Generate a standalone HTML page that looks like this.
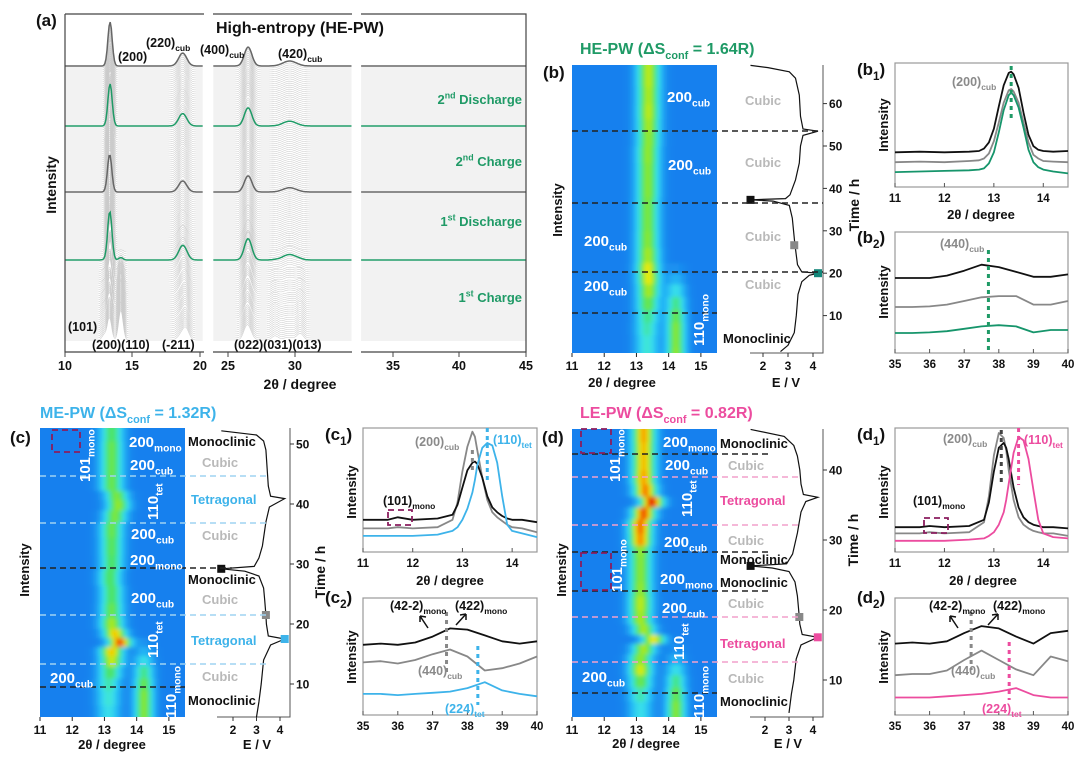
<!DOCTYPE html>
<html><head><meta charset="utf-8"><style>
html,body{margin:0;padding:0;background:#fff;}
svg{display:block;font-family:"Liberation Sans",Arial,sans-serif;font-weight:bold;}
</style></head><body>
<svg id="fig" xmlns="http://www.w3.org/2000/svg" width="1080" height="759" viewBox="0 0 1080 759">
<defs>
<filter id="blur" x="-5%" y="-5%" width="110%" height="110%"><feGaussianBlur stdDeviation="2.2"/></filter>
<clipPath id="clipB"><rect x="572" y="65" width="145" height="288"/></clipPath>
<clipPath id="clipC"><rect x="40" y="428" width="145" height="289"/></clipPath>
<clipPath id="clipD"><rect x="572" y="429" width="145" height="288"/></clipPath>
</defs>
</svg>
<script>
// ---------- DATA ----------
const heTimes=[1,4,7,10,13,16,19,21,24,28,32,36,40,44,48,52,55,58,62,66,69];
const heCenters=[13.3,13.3,13.3,13.32,13.33,13.35,13.35,13.33,13.33,13.32,13.32,13.32,13.33,13.33,13.33,13.35,13.35,13.35,13.35,13.35,13.35];
const heAmps=[0.35,0.35,0.4,0.45,0.55,0.65,0.75,0.75,0.65,0.6,0.58,0.58,0.6,0.6,0.62,0.62,0.65,0.68,0.66,0.68,0.68];
const heMono=[0.62,0.6,0.6,0.55,0.45,0.3,0.15,0.05,0,0,0,0,0,0,0,0,0,0,0,0,0];
const meTimes=[5,8,10,12,14,15.5,17,18.5,20,22,25,28,30,33,36,38,40,41.5,43,46,49,52];
const meCenters=[13.1,13.1,13.1,13.15,13.2,13.2,13.45,13.3,13.2,13.2,13.2,13.15,13.2,13.2,13.2,13.3,13.4,13.35,13.2,13.2,13.2,13.2];
const meAmps=[0.3,0.35,0.4,0.5,0.7,0.8,0.95,0.8,0.65,0.55,0.5,0.5,0.5,0.52,0.55,0.58,0.62,0.58,0.55,0.55,0.55,0.5];
const meMono=[0.6,0.6,0.55,0.45,0.3,0.15,0.05,0,0,0,0,0,0,0,0,0,0,0,0,0,0,0];
const leTimes=[6,8,10,11.5,13,14.5,16,17,19,21,23,25,27,28.5,30,32,34,35.5,37,39,41,43,45];
const leCenters=[13.1,13.1,13.1,13.1,13.1,13.2,13.5,13.2,13.1,13.1,13.1,13.1,13.1,13.1,13.1,13.1,13.2,13.45,13.25,13.2,13.2,13.2,13.2];
const leAmps=[0.3,0.4,0.55,0.72,0.62,0.65,0.75,0.65,0.65,0.68,0.62,0.6,0.6,0.62,0.88,0.92,0.95,1.0,0.9,0.85,0.82,0.82,0.85];
const leMono=[0.6,0.55,0.45,0.3,0.15,0.05,0,0,0,0,0,0,0,0,0,0,0,0,0,0,0,0,0];
const eTimesB=[1.5,3,6,10,15,18,19.5,20,20.3,22,27,33,36,37,37.3,37.6,38.5,42,46,50,52.5,53.5,54,57,62,66,67.5,68.5,69];
const eVoltsB=[2.7,3.0,3.25,3.33,3.4,3.55,3.85,4.2,3.55,3.38,3.27,3.17,3.05,2.4,1.5,2.9,3.08,3.3,3.45,3.5,3.6,4.2,3.6,3.5,3.45,3.3,3.05,2.2,1.5];
const eTimesC=[4.5,7,10,14,16.5,17.5,18,20,21.5,24,26,28,28.8,29.2,29.6,31,33,37,39.5,40.9,41.3,43,46,49,50.5,51.5,52.2];
const eVoltsC=[3.0,3.1,3.2,3.3,3.6,4.2,3.5,3.42,3.4,3.35,3.3,3.1,2.5,1.5,2.9,3.1,3.25,3.4,3.55,4.2,3.6,3.5,3.45,3.4,3.3,3.0,1.5];
const eTimesD=[5.3,8,10,13,15,16.1,16.5,18,19,22,24,25.5,26,26.3,26.6,28,31,34,35.5,36.1,36.5,38,40,42,43.5,44.8,45.8];
const eVoltsD=[3.0,3.1,3.2,3.3,3.5,4.2,3.55,3.45,3.43,3.35,3.25,3.0,2.3,1.4,2.9,3.15,3.35,3.5,3.7,4.2,3.6,3.5,3.45,3.35,3.2,2.8,1.4];
const lowAngleX=[11,11.5,11.7,12,12.5,12.8,12.9,13,13.1,13.2,13.25,13.3,13.4,13.5,13.6,13.7,13.8,13.9,14,14.2,14.5];
const highAngleX=[35,35.5,36,36.5,37,37.5,38,38.5,39,39.5,40];
const b1X=[11,11.5,12,12.5,12.7,12.8,12.9,13.0,13.1,13.2,13.3,13.35,13.4,13.5,13.6,13.7,13.8,13.9,14.0,14.2,14.5];
const b1Black=[28,28.5,28,28.5,29,31,36,47,65,82,92,93,91,80,60,42,33,30,29,28.5,29];
const b1Gray=[20,20.5,20,21,21.5,23,27,37,52,68,78,79,77,68,52,36,26,23,21,20.5,20];
const b1Teal=[12,12.5,13,13.5,14,15,19,28,44,62,74,76,74,64,48,30,20,16,14,12.5,11];
const b2Black=[62,62,62,64,68,73,71,67,63,63,65];
const b2Gray=[38,38,38.5,40,43,46,47,47,40,40,43];
const b2Teal=[16.5,16.5,17,18,20,22,23,22,17,19,19];
const c1Black=[26,26,28,26,27,30,38,52,66,72,73,71,60,45,36,32,29,27,26,26,24];
const c1Gray=[19,19,20,19,20,26,40,65,85,97,93,82,60,42,32,28,25,22,20,19,16];
const c1Blue=[13,13,13,13,14,17,20,26,35,48,58,70,84,88,86,72,45,22,17,15,12];
const c2Black=[60,61,60,62,67,74,73,68,63,61,63];
const c2Gray=[45,46,44,47,52,56,50,38,40,44,50];
const c2Blue=[18,18,17,18,19,20,23,28,21,18,16];
const d1Black=[20,20,21,20,21,26,40,65,84,88,84,75,52,36,28,24,22,21,20,20,19];
const d1Gray=[15,15,16,15,16,24,45,78,96,92,82,66,42,28,22,19,17,16,15,15,13];
const d1Pink=[9,9,9,9,10,11,13,16,22,32,42,55,80,93,90,75,50,26,15,12,11];
const d2Black=[61,62,61,63,70,76,74,67,61,70,72];
const d2Gray=[34,35,35,38,47,55,47,39,34,50,46];
const d2Pink=[15,15,15,16,17,18,20,23,17,15,15];
const lowTicks=[11,12,13,14];
const highTicks=[35,36,37,38,39,40];
const heatTicks=[11,12,13,14,15];
const eTicks=[2,3,4];

// ---------- HELPERS ----------
const NS="http://www.w3.org/2000/svg";
const svg=document.getElementById('fig');
const GREEN="#1f9a66", BLUE="#3db3ea", PINK="#ec4c9f", GRAY="#8a8a8a", LGRAY="#b9b9b9", PURPLE="#8a1d5e";
function mk(tag,attrs,parent){const e=document.createElementNS(NS,tag);for(const k in attrs)e.setAttribute(k,attrs[k]);(parent||svg).appendChild(e);return e;}
function txt(x,y,parts,o){
  o=o||{};const size=o.size||13;
  const t=mk('text',{x:x,y:y,'font-size':size,fill:o.color||'#111','text-anchor':o.anchor||'start'},o.parent);
  if(o.rot)t.setAttribute('transform','rotate('+o.rot+' '+x+' '+y+')');
  if(typeof parts==='string')parts=[[parts,0]];
  let shift=0;
  parts.forEach(p=>{const s=mk('tspan',{},t);let target=0;
    if(p[1]===1){s.setAttribute('font-size',size*0.68);target=size*0.3;}
    else if(p[1]===2){s.setAttribute('font-size',size*0.68);target=-size*0.42;}
    if(target!==shift){s.setAttribute('dy',target-shift);shift=target;}
    s.textContent=p[0];});
  return t;
}
function g(x,c,s){return Math.exp(-(x-c)*(x-c)/(2*s*s));}
function nearest(arr,t){let k=0,b=1e9;arr.forEach((v,i)=>{if(Math.abs(v-t)<b){b=Math.abs(v-t);k=i;}});return k;}
function cmap(v){
  const st=[[0,[22,128,238]],[0.18,[38,190,246]],[0.32,[60,228,232]],[0.48,[70,228,110]],[0.62,[150,232,40]],[0.74,[235,236,10]],[0.86,[250,150,0]],[1,[230,30,0]]];
  v=Math.max(0,Math.min(1,v));
  for(let i=1;i<st.length;i++){if(v<=st[i][0]){const a=st[i-1],b=st[i],f=(v-a[0])/(b[0]-a[0]);
    return 'rgb('+a[1].map((c,j)=>Math.round(c+(b[1][j]-c)*f)).join(',')+')';}}
  return 'rgb(230,30,0)';
}

function drawHeat(c){
  const grp=mk('g',{});
  
  
  mk('rect',{x:c.x0,y:c.y0,width:c.x1-c.x0,height:c.y1-c.y0,fill:'rgb(22,128,238)'},grp);
  const clip=mk('g',{'clip-path':'url(#'+c.clip+')'},grp);
  const cells=mk('g',{filter:'url(#blur)'},clip);
  const X=d=>c.x0+(d-11)/(15.5-11)*(c.x1-c.x0);
  const Y=t=>c.y0+(c.tmax-t)/(c.tmax-c.tmin)*(c.y1-c.y0);
  const n=c.times.length;
  for(let k=0;k<n;k++){
    const tTop=k===n-1?c.tmax+2:(c.times[k]+c.times[k+1])/2;
    const tBot=k===0?c.tmin-2:(c.times[k]+c.times[k-1])/2;
    const yT=Y(tTop),yB=Y(tBot);
    for(let d=10.9;d<15.6;d+=0.05){
      const v=c.amps[k]*g(d,c.cents[k],0.24)+c.monos[k]*g(d,14.2,0.2);
      const r=mk('rect',{x:X(d).toFixed(2),y:yT.toFixed(2),width:((c.x1-c.x0)*0.05/4.5+0.6).toFixed(2),height:(yB-yT+0.5).toFixed(2),fill:cmap(v)},cells);
      
      
    }
  }
  heatTicks.forEach(tv=>{
    const l=mk('line',{x1:X(tv),x2:X(tv),y1:c.y1,y2:c.y1+4,stroke:'#222','stroke-width':1},grp);
    
    const tl=txt(X(tv),c.y1+17,String(tv),{size:12,anchor:'middle',parent:grp});
    
  });
  return {X,Y};
}
function dash(x1,x2,y,color,name){
  const l=mk('line',{x1:x1,x2:x2,y1:y,y2:y,stroke:color,'stroke-width':1.5,'stroke-dasharray':'6,4'});
  
  
}
function drawE(c){
  const grp=mk('g',{});
  
  
  const XE=v=>c.e2+(v-2)*c.es;
  const YT=t=>c.t0y-t*c.ts;
  const ax=mk('path',{d:'M'+c.left+' '+c.y1+'H'+c.axisX+'V'+c.y0,fill:'none',stroke:'#555','stroke-width':1},grp);
  
  eTicks.forEach(v=>{
    const l=mk('line',{x1:XE(v),x2:XE(v),y1:c.y1,y2:c.y1+4,stroke:'#333'},grp);
    
    const tl=txt(XE(v),c.y1+17,String(v),{size:12,anchor:'middle',parent:grp});
    
  });
  c.tticks.forEach(t=>{
    const l=mk('line',{x1:c.axisX,x2:c.axisX+4,y1:YT(t),y2:YT(t),stroke:'#333'},grp);
    
    const tl=txt(c.axisX+6,YT(t)+4.5,String(t),{size:12,parent:grp});
    
  });
  let d='';c.times.forEach((t,i)=>{d+=(i?'L':'M')+XE(c.volts[i]).toFixed(1)+' '+YT(t).toFixed(1);});
  const p=mk('path',{d:d,fill:'none',stroke:'#111','stroke-width':1.2},grp);
  
  c.marks.forEach(m=>{
    const r=mk('rect',{x:XE(m[1])-4,y:YT(m[0])-4,width:8,height:8,fill:m[2]},grp);
    
  });
  return {XE,YT};
}
function drawSpec(c){
  const grp=mk('g',{});
  
  
  const X=d=>c.x0+(d-c.xmin)/(c.xmax-c.xmin)*(c.x1-c.x0);
  const Y=v=>c.y1-v/100*(c.y1-c.y0);
  const fr=mk('rect',{x:c.x0,y:c.y0,width:c.x1-c.x0,height:c.y1-c.y0,fill:'none',stroke:'#999','stroke-width':1.2},grp);
  
  c.ticks.forEach(tv=>{
    const l=mk('line',{x1:X(tv),x2:X(tv),y1:c.y1,y2:c.y1-4,stroke:'#555'},grp);
    
    const tl=txt(X(tv),c.y1+15,String(tv),{size:11.5,anchor:'middle',parent:grp});
    
  });
  c.series.forEach(s=>{
    let d='';s.xs.forEach((x,i)=>{d+=(i?'L':'M')+X(x).toFixed(1)+' '+Y(s.ys[i]).toFixed(1);});
    const p=mk('path',{d:d,fill:'none',stroke:s.color,'stroke-width':1.8,'stroke-linejoin':'round'},grp);
    
  });
  return {X,Y};
}
function vdot(x,y1,y2,color,name){
  const l=mk('line',{x1:x,x2:x,y1:y1,y2:y2,stroke:color,'stroke-width':3,'stroke-dasharray':'4,4'});
  
  
}
function pbox(x,y,w,h,name){
  const r=mk('rect',{x:x,y:y,width:w,height:h,fill:'none',stroke:PURPLE,'stroke-width':1.8,'stroke-dasharray':'6,4'});
  
  
}

// ---------- PANEL A ----------
(function(){
  const grp=mk('g',{});
  
  
  const segs=[{d0:10,d1:20.3,px:65,ref:10,s:13.45},{d0:23.9,d1:34.25,px:228,ref:25,s:13.4},{d0:32.6,d1:45,px:393,ref:35,s:13.3}];
  const N=138;
  const hi={137:'#666',107:GREEN,74:'#666',40:GREEN};
  const order=[];for(let i=0;i<N;i++)if(!hi[i])order.push(i);Object.keys(hi).forEach(k=>order.push(+k));
  order.forEach(i=>{
    const t=i/(N-1)*69;const k=nearest(heTimes,t);
    const A=heAmps[k]/0.68, M=heMono[k]/0.62, c0=heCenters[k];
    const base=340-i*2;
    segs.forEach(sg=>{
      let d='';
      for(let x=sg.d0;x<=sg.d1+0.001;x+=0.08){
        const v=A*(44*g(x,c0,0.16)+13*g(x,18.75,0.3)+19*g(x,26.5,0.28)+5*g(x,29.6,0.5))
               +M*(30*g(x,14.15,0.16)+5*g(x,12.9,0.15)+8*g(x,19.0,0.22)+6*g(x,26.4,0.22)+4*g(x,28.5,0.22)+6*g(x,30.4,0.22));
        d+=(d?'L':'M')+(sg.px+(x-sg.ref)*sg.s).toFixed(1)+' '+(base-v).toFixed(1);
      }
      const p=mk('path',{d:d,fill:'none',stroke:hi[i]||'#cbcbcb','stroke-width':hi[i]?1.5:0.55},grp);
      
    });
  });
  const ax=mk('path',{d:'M65 14H204M213 14H352M361 14H526V352H361M352 352H213M204 352H65V14',fill:'none',stroke:'#444','stroke-width':1.2},grp);
  
  [[10,65],[15,132],[20,200],[25,228],[30,295],[35,393],[40,459],[45,526]].forEach(a=>{
    const l=mk('line',{x1:a[1],x2:a[1],y1:352,y2:357,stroke:'#444'},grp);
    
    const tl=txt(a[1],370,String(a[0]),{size:12.5,anchor:'middle',parent:grp});
    
  });
})();
let e;
e=txt(36,26,'(a)',{size:17});
e=txt(300,33,'High-entropy  (HE-PW)',{size:16,anchor:'middle'});
e=txt(118,61,'(200)',{size:12.5});
e=txt(146,47,[['(220)',0],['cub',1]],{size:12.5});
e=txt(200,54,[['(400)',0],['cub',1]],{size:12.5});
e=txt(278,58,[['(420)',0],['cub',1]],{size:12.5});
e=txt(68,331,'(101)',{size:12.5});
e=txt(92,349,'(200)(110)',{size:12.5});
e=txt(162,349,'(-211)',{size:12.5});
e=txt(234,349,'(022)(031)(013)',{size:12.5});
e=txt(522,104,[['2',0],['nd',2],[' Discharge',0]],{size:13,color:GREEN,anchor:'end'});
e=txt(522,166,[['2',0],['nd',2],[' Charge',0]],{size:13,color:GREEN,anchor:'end'});
e=txt(522,226,[['1',0],['st',2],[' Discharge',0]],{size:13,color:GREEN,anchor:'end'});
e=txt(522,302,[['1',0],['st',2],[' Charge',0]],{size:13,color:GREEN,anchor:'end'});
e=txt(56,185,'Intensity',{size:14,anchor:'middle',rot:-90});
e=txt(300,389,'2θ / degree',{size:14,anchor:'middle'});

// ---------- PANEL B ----------
drawHeat({name:'heatmap-he-pw',x0:572,x1:717,y0:65,y1:353,tmin:(358-353)/4.24,tmax:(358-65)/4.24,times:heTimes,cents:heCenters,amps:heAmps,monos:heMono,clip:'clipB'});
drawE({name:'voltage-panel-b',left:750,axisX:823,y0:65,y1:353,e2:763,es:25,t0y:358,ts:4.24,tticks:[10,20,30,40,50,60],times:eTimesB,volts:eVoltsB,marks:[[20,4.2,'#13877a'],[26.6,3.25,'#888'],[37.3,1.5,'#111']]});
dash(572,823,131,'#222','phase-boundary');dash(572,823,203,'#222','phase-boundary');dash(572,823,272,'#222','phase-boundary');dash(572,717,313,'#222','phase-boundary');
e=txt(580,54,[['HE-PW (ΔS',0],['conf',1],[' = 1.64R)',0]],{size:16,color:GREEN});
e=txt(543,78,'(b)',{size:17});
[[667,102],[668,170],[584,246],[584,291]].forEach(p=>{e=txt(p[0],p[1],[['200',0],['cub',1]],{size:15,color:'#fff'});});
e=txt(704,346,[['110',0],['mono',1]],{size:15,color:'#fff',rot:-90});
[[745,105],[745,167],[745,241],[745,289]].forEach(p=>{e=txt(p[0],p[1],'Cubic',{size:13,color:LGRAY});});
e=txt(723,343,'Monoclinic',{size:13});
e=txt(562,210,'Intensity',{size:13,anchor:'middle',rot:-90});
e=txt(622,387,'2θ / degree',{size:13,anchor:'middle'});
e=txt(786,387,'E / V',{size:13,anchor:'middle'});
e=txt(859,205,'Time / h',{size:14,anchor:'middle',rot:-90});

drawSpec({name:'panel-b1',x0:895,x1:1068,y0:63,y1:187,xmin:11,xmax:14.5,ticks:lowTicks,series:[{xs:b1X,ys:b1Black,color:'#111',name:'series-black'},{xs:b1X,ys:b1Gray,color:'#888',name:'series-gray'},{xs:b1X,ys:b1Teal,color:'#16956b',name:'series-green'}]});
vdot(895+(13.35-11)/3.5*173,66,120,GREEN,'peak-marker');
e=txt(952,86,[['(200)',0],['cub',1]],{size:12.5,color:GRAY});
e=txt(857,75,[['(b',0],['1',1],[')',0]],{size:17});
e=txt(888,125,'Intensity',{size:13,anchor:'middle',rot:-90});
e=txt(981,219,'2θ / degree',{size:13,anchor:'middle'});
drawSpec({name:'panel-b2',x0:895,x1:1068,y0:232,y1:353,xmin:35,xmax:40,ticks:highTicks,series:[{xs:highAngleX,ys:b2Black,color:'#111',name:'series-black'},{xs:highAngleX,ys:b2Gray,color:'#888',name:'series-gray'},{xs:highAngleX,ys:b2Teal,color:'#16956b',name:'series-green'}]});
vdot(895+(37.7-35)/5*173,250,350,GREEN,'peak-marker');
e=txt(940,248,[['(440)',0],['cub',1]],{size:12.5,color:GRAY});
e=txt(857,243,[['(b',0],['2',1],[')',0]],{size:17});
e=txt(888,292,'Intensity',{size:13,anchor:'middle',rot:-90});

// ---------- PANEL C ----------
drawHeat({name:'heatmap-me-pw',x0:40,x1:185,y0:428,y1:717,tmin:(744-717)/6,tmax:(744-428)/6,times:meTimes,cents:meCenters,amps:meAmps,monos:meMono,clip:'clipC'});
drawE({name:'voltage-panel-c',left:217,axisX:290,y0:428,y1:717,e2:233,es:23.5,t0y:744,ts:6,tticks:[10,20,30,40,50],times:eTimesC,volts:eVoltsC,marks:[[17.5,4.2,BLUE],[21.5,3.4,'#888'],[29.2,1.5,'#111']]});
dash(40,232,568,'#222','phase-boundary');dash(40,185,687,'#222','phase-boundary');
[476,523,615,664].forEach(y=>dash(40,270,y,'#9fd3f2','phase-boundary'));
pbox(52,430,28,22,'mono-region-box');
e=txt(40,418,[['ME-PW (ΔS',0],['conf',1],[' = 1.32R)',0]],{size:16,color:BLUE});
e=txt(10,443,'(c)',{size:17});
[[129,447,'mono'],[130,470,'cub'],[131,539,'cub'],[130,565,'mono'],[131,603,'cub'],[50,683,'cub']].forEach(p=>{e=txt(p[0],p[1],[['200',0],[p[2],1]],{size:15,color:'#fff'});});
e=txt(90,482,[['101',0],['mono',1]],{size:15,color:'#fff',rot:-90});
e=txt(158,520,[['110',0],['tet',1]],{size:15,color:'#fff',rot:-90});
e=txt(158,658,[['110',0],['tet',1]],{size:15,color:'#fff',rot:-90});
e=txt(176,718,[['110',0],['mono',1]],{size:15,color:'#fff',rot:-90});
[[188,446,'Monoclinic','#111'],[202,467,'Cubic',LGRAY],[191,504,'Tetragonal',BLUE],[202,540,'Cubic',LGRAY],[188,584,'Monoclinic','#111'],[202,604,'Cubic',LGRAY],[191,645,'Tetragonal',BLUE],[202,681,'Cubic',LGRAY],[188,705,'Monoclinic','#111']].forEach(p=>{e=txt(p[0],p[1],p[2],{size:13,color:p[3]});});
e=txt(29,570,'Intensity',{size:13,anchor:'middle',rot:-90});
e=txt(112,749,'2θ / degree',{size:13,anchor:'middle'});
e=txt(257,749,'E / V',{size:13,anchor:'middle'});
e=txt(325,572,'Time / h',{size:14,anchor:'middle',rot:-90});

drawSpec({name:'panel-c1',x0:363,x1:537,y0:428,y1:552,xmin:11,xmax:14.5,ticks:lowTicks,series:[{xs:lowAngleX,ys:c1Gray,color:'#888',name:'series-gray'},{xs:lowAngleX,ys:c1Black,color:'#111',name:'series-black'},{xs:lowAngleX,ys:c1Blue,color:BLUE,name:'series-blue'}]});
vdot(363+(13.2-11)/3.5*174,450,472,'#888','peak-marker');vdot(363+(13.5-11)/3.5*174,428,480,BLUE,'peak-marker');
pbox(388,510,24,15,'mono-region-box');
e=txt(383,505,[['(101)',0],['mono',1]],{size:12.5});
e=txt(415,446,[['(200)',0],['cub',1]],{size:12.5,color:GRAY});
e=txt(493,444,[['(110)',0],['tet',1]],{size:12.5,color:BLUE});
e=txt(325,440,[['(c',0],['1',1],[')',0]],{size:17});
e=txt(356,492,'Intensity',{size:13,anchor:'middle',rot:-90});
e=txt(450,585,'2θ / degree',{size:13,anchor:'middle'});
drawSpec({name:'panel-c2',x0:363,x1:537,y0:598,y1:715,xmin:35,xmax:40,ticks:highTicks,series:[{xs:highAngleX,ys:c2Black,color:'#111',name:'series-black'},{xs:highAngleX,ys:c2Gray,color:'#888',name:'series-gray'},{xs:highAngleX,ys:c2Blue,color:BLUE,name:'series-blue'}]});
vdot(363+(37.4-35)/5*174,612,672,'#888','peak-marker');vdot(363+(38.3-35)/5*174,646,705,BLUE,'peak-marker');
e=txt(390,610,[['(42-2)',0],['mono',1]],{size:12.5});
e=txt(455,610,[['(422)',0],['mono',1]],{size:12.5});
e=txt(418,675,[['(440)',0],['cub',1]],{size:12.5,color:GRAY});
e=txt(445,713,[['(224)',0],['tet',1]],{size:12.5,color:BLUE});
e=mk('path',{d:'M428 628L420 616M420 616l0 6M420 616l6 1M456 625L466 614M466 614l-6 1M466 614l0 6',stroke:'#111','stroke-width':1.5,fill:'none'});
e=txt(325,603,[['(c',0],['2',1],[')',0]],{size:17});
e=txt(356,657,'Intensity',{size:13,anchor:'middle',rot:-90});

// ---------- PANEL D ----------
drawHeat({name:'heatmap-le-pw',x0:572,x1:717,y0:429,y1:717,tmin:(750-717)/7,tmax:(750-429)/7,times:leTimes,cents:leCenters,amps:leAmps,monos:leMono,clip:'clipD'});
drawE({name:'voltage-panel-d',left:750,axisX:823,y0:429,y1:717,e2:765,es:24,t0y:750,ts:7,tticks:[10,20,30,40],times:eTimesD,volts:eVoltsD,marks:[[16.1,4.2,PINK],[19,3.43,'#888'],[26.3,1.4,'#111']]});
[454,552,591].forEach(y=>dash(572,770,y,'#222','phase-boundary'));dash(572,717,693,'#222','phase-boundary');
[477,525,617,662].forEach(y=>dash(572,800,y,'#f2a0cb','phase-boundary'));
pbox(581,429,30,24,'mono-region-box');pbox(581,553,30,37,'mono-region-box');
e=txt(580,418,[['LE-PW (ΔS',0],['conf',1],[' = 0.82R)',0]],{size:16,color:PINK});
e=txt(542,443,'(d)',{size:17});
[[663,447,'mono'],[665,470,'cub'],[664,547,'cub'],[660,584,'mono'],[662,613,'cub'],[582,682,'cub']].forEach(p=>{e=txt(p[0],p[1],[['200',0],[p[2],1]],{size:15,color:'#fff'});});
e=txt(620,482,[['101',0],['mono',1]],{size:15,color:'#fff',rot:-90});
e=txt(622,592,[['101',0],['mono',1]],{size:15,color:'#fff',rot:-90});
e=txt(692,517,[['110',0],['tet',1]],{size:15,color:'#fff',rot:-90});
e=txt(684,660,[['110',0],['tet',1]],{size:15,color:'#fff',rot:-90});
e=txt(704,718,[['110',0],['mono',1]],{size:15,color:'#fff',rot:-90});
[[720,448,'Monoclinic','#111'],[728,470,'Cubic',LGRAY],[720,505,'Tetragonal',PINK],[728,545,'Cubic',LGRAY],[720,564,'Monoclinic','#111'],[720,587,'Monoclinic','#111'],[728,608,'Cubic',LGRAY],[720,648,'Tetragonal',PINK],[728,683,'Cubic',LGRAY],[720,706,'Monoclinic','#111']].forEach(p=>{e=txt(p[0],p[1],p[2],{size:13,color:p[3]});});
e=txt(566,570,'Intensity',{size:13,anchor:'middle',rot:-90});
e=txt(646,748,'2θ / degree',{size:13,anchor:'middle'});
e=txt(788,748,'E / V',{size:13,anchor:'middle'});
e=txt(858,540,'Time / h',{size:14,anchor:'middle',rot:-90});

drawSpec({name:'panel-d1',x0:895,x1:1068,y0:428,y1:552,xmin:11,xmax:14.5,ticks:lowTicks,series:[{xs:lowAngleX,ys:d1Gray,color:'#888',name:'series-gray'},{xs:lowAngleX,ys:d1Black,color:'#111',name:'series-black'},{xs:lowAngleX,ys:d1Pink,color:PINK,name:'series-pink'}]});
vdot(895+(13.15-11)/3.5*173,430,485,'#444','peak-marker');vdot(895+(13.5-11)/3.5*173,428,485,PINK,'peak-marker');
pbox(924,518,24,15,'mono-region-box');
e=txt(913,505,[['(101)',0],['mono',1]],{size:12.5});
e=txt(943,443,[['(200)',0],['cub',1]],{size:12.5,color:GRAY});
e=txt(1024,444,[['(110)',0],['tet',1]],{size:12.5,color:PINK});
e=txt(857,440,[['(d',0],['1',1],[')',0]],{size:17});
e=txt(888,492,'Intensity',{size:13,anchor:'middle',rot:-90});
e=txt(983,585,'2θ / degree',{size:13,anchor:'middle'});
drawSpec({name:'panel-d2',x0:895,x1:1068,y0:598,y1:715,xmin:35,xmax:40,ticks:highTicks,series:[{xs:highAngleX,ys:d2Black,color:'#111',name:'series-black'},{xs:highAngleX,ys:d2Gray,color:'#888',name:'series-gray'},{xs:highAngleX,ys:d2Pink,color:PINK,name:'series-pink'}]});
vdot(895+(37.2-35)/5*173,612,670,'#888','peak-marker');vdot(895+(38.3-35)/5*173,642,700,PINK,'peak-marker');
e=txt(929,610,[['(42-2)',0],['mono',1]],{size:12.5});
e=txt(993,610,[['(422)',0],['mono',1]],{size:12.5});
e=txt(951,675,[['(440)',0],['cub',1]],{size:12.5,color:GRAY});
e=txt(982,713,[['(224)',0],['tet',1]],{size:12.5,color:PINK});
e=mk('path',{d:'M958 628L950 616M950 616l0 6M950 616l6 1M988 625L998 614M998 614l-6 1M998 614l0 6',stroke:'#111','stroke-width':1.5,fill:'none'});
e=txt(857,603,[['(d',0],['2',1],[')',0]],{size:17});
e=txt(888,657,'Intensity',{size:13,anchor:'middle',rot:-90});
</script>
</body></html>
